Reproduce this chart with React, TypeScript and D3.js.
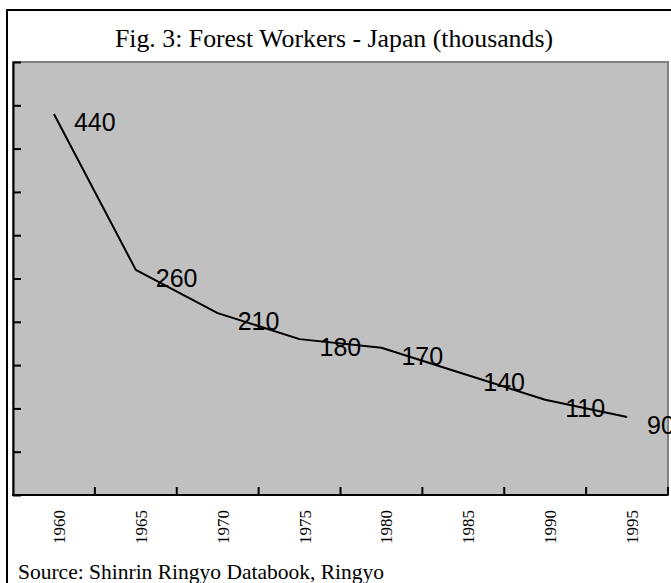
import { useEffect, useRef } from 'react';
import * as d3 from 'd3';

const years = ['1960', '1965', '1970', '1975', '1980', '1985', '1990', '1995'];
const workers = [440, 260, 210, 180, 170, 140, 110, 90];
const yTicks = [0, 50, 100, 150, 200, 250, 300, 350, 400, 450, 500];

const title = 'Fig. 3: Forest Workers - Japan (thousands)';
const source = 'Source: Shinrin Ringyo Databook, Ringyo';

const App = () => {
    const svgRef = useRef<SVGSVGElement>(null);

    useEffect(() => {
        if (!svgRef.current) return;
        const svg = d3.select(svgRef.current);
        svg.selectAll('*').remove();

        const W = 671;
        const H = 583;
        const plot = { left: 13, top: 62, right: 668, bottom: 495 };

        // outer frame (runs off the right and bottom of the page)
        svg.append('rect')
            .attr('x', 7).attr('y', 10)
            .attr('width', 700).attr('height', 620)
            .attr('fill', '#fff')
            .attr('stroke', '#000')
            .attr('stroke-width', 2);

        svg.append('text')
            .attr('x', 334).attr('y', 47)
            .attr('text-anchor', 'middle')
            .style('font-family', '"Liberation Serif", "Times New Roman", serif')
            .style('font-size', '25.8px')
            .text(title);

        const x = d3.scaleBand<string>()
            .domain(years)
            .range([plot.left, plot.right]);

        const y = d3.scaleLinear()
            .domain([0, 500])
            .range([plot.bottom, plot.top]);

        // plot area
        svg.append('rect')
            .attr('x', plot.left).attr('y', plot.top)
            .attr('width', plot.right - plot.left)
            .attr('height', plot.bottom - plot.top)
            .attr('fill', '#c0c0c0')
            .attr('stroke', '#808080')
            .attr('stroke-width', 2);

        // y axis, ticks pointing inward, no labels
        const yAxis = svg.append('g')
            .attr('transform', `translate(${plot.left},0)`)
            .call(d3.axisRight(y).tickValues(yTicks).tickSize(8).tickFormat(() => '').tickSizeOuter(0));
        yAxis.select('.domain').attr('stroke', '#000').attr('stroke-width', 2);
        yAxis.selectAll('.tick line').attr('stroke', '#000').attr('stroke-width', 2);

        // x axis: line and tick marks between categories
        svg.append('line')
            .attr('x1', plot.left - 1).attr('x2', plot.right)
            .attr('y1', plot.bottom).attr('y2', plot.bottom)
            .attr('stroke', '#000').attr('stroke-width', 2);

        svg.append('g')
            .selectAll('line')
            .data(years)
            .join('line')
            .attr('x1', d => (x(d) ?? 0) + x.bandwidth())
            .attr('x2', d => (x(d) ?? 0) + x.bandwidth())
            .attr('y1', plot.bottom)
            .attr('y2', plot.bottom - 8)
            .attr('stroke', '#000')
            .attr('stroke-width', 2);

        svg.append('g')
            .selectAll('text')
            .data(years)
            .join('text')
            .attr('transform', d => `translate(${(x(d) ?? 0) + x.bandwidth() / 2 + 11},${plot.bottom + 15}) rotate(-90)`)
            .attr('text-anchor', 'end')
            .style('font-family', '"Liberation Serif", "Times New Roman", serif')
            .style('font-size', '17px')
            .text(d => d);

        // the series
        const cx = (i: number) => (x(years[i]) ?? 0) + x.bandwidth() / 2;
        const line = d3.line<number>()
            .x((_d, i) => cx(i))
            .y(d => y(d));

        svg.append('path')
            .datum(workers)
            .attr('d', line)
            .attr('fill', 'none')
            .attr('stroke', '#000')
            .attr('stroke-width', 2)
            .attr('stroke-linejoin', 'round');

        svg.append('g')
            .selectAll('text')
            .data(workers)
            .join('text')
            .attr('x', (_d, i) => cx(i) + 20)
            .attr('y', d => y(d) + 17)
            .style('font-family', '"Liberation Sans", Arial, sans-serif')
            .style('font-size', '25px')
            .text(d => d);

        svg.append('text')
            .attr('x', 18).attr('y', 579)
            .style('font-family', '"Liberation Serif", "Times New Roman", serif')
            .style('font-size', '21.5px')
            .text(source);

        svg.attr('width', W).attr('height', H);
    }, []);

    return (
        <div style={{ position: 'absolute', left: 0, top: 0 }}>
            <svg ref={svgRef} width={671} height={583} style={{ display: 'block' }}></svg>
        </div>
    );
};

export default App;
